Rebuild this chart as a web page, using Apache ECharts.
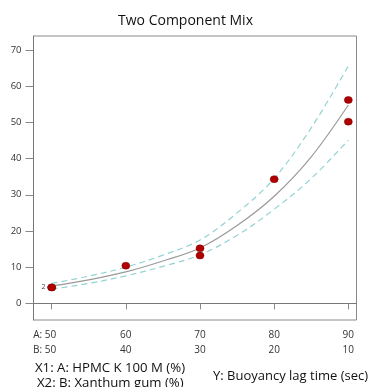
<!DOCTYPE html>
<html>
<head>
<meta charset="utf-8">
<script src="https://cdn.jsdelivr.net/npm/echarts@6/dist/echarts.min.js"></script>
<style>html,body{margin:0;padding:0;background:#fff}#c{width:371px;height:387px}</style>
</head>
<body>
<div id="c"></div>
<script>
// ---- data ----
var xTicks = [50, 60, 70, 80, 90];
var aLabels = ['50', '60', '70', '80', '90'];
var bLabels = ['50', '40', '30', '20', '10'];
var yTicks = [0, 10, 20, 30, 40, 50, 60, 70];
var curveX = [50, 55, 60, 65, 70, 75, 80, 85, 90];
var fitY = [4.8, 6.5, 8.7, 11.7, 15.3, 21.5, 29.6, 40.5, 54.8];
var upperY = [5.5, 7.5, 10.0, 13.3, 17.5, 25.0, 34.5, 48.5, 65.6];
var lowerY = [3.9, 5.5, 7.6, 10.2, 13.4, 18.8, 26.0, 34.5, 45.1];
var ptX = [50, 50, 60, 70, 70, 80, 90, 90];
var ptY = [4.4, 4.4, 10.4, 15.2, 13.2, 34.3, 56.2, 50.2];
var ptLabel = ['2', '', '', '', '', '', '', ''];

function pairs(xs, ys) { return xs.map(function (x, i) { return [x, ys[i]]; }); }

var font = '"Open Sans", "Noto Sans", sans-serif';
var chart = echarts.init(document.getElementById('c'), null, { renderer: 'canvas' });
chart.setOption({
  animation: false,
  backgroundColor: '#fff',
  title: [
    { text: 'Two Component Mix', left: 'center', top: 9, textStyle: { fontFamily: font, fontSize: 14, fontWeight: 'normal', color: '#111' } },
    { text: 'X1: A: HPMC K 100 M (%)', left: 35, top: 362, padding: 0, textStyle: { fontFamily: font, fontSize: 13.2, fontWeight: 'normal', color: '#111' } },
    { text: 'X2: B: Xanthum gum (%)', left: 37, top: 377, padding: 0, textStyle: { fontFamily: font, fontSize: 13.2, fontWeight: 'normal', color: '#111' } },
    { text: 'Y: Buoyancy lag time (sec)', left: 213, top: 370, padding: 0, textStyle: { fontFamily: font, fontSize: 13, fontWeight: 'normal', color: '#111' } }
  ],
  grid: { left: 33.5, right: 14.5, top: 36, bottom: 67, show: true, borderColor: '#8a8a8a', borderWidth: 1 },
  xAxis: {
    type: 'value', min: 47.55, max: 91.1,
    axisLine: { show: true, lineStyle: { color: '#777' } },
    axisTick: { show: true, length: 6, customValues: xTicks, lineStyle: { color: '#888' } },
    splitLine: { show: false },
    axisLabel: {
      customValues: xTicks, margin: 8,
      fontFamily: font, fontSize: 10, color: '#333', lineHeight: 15,
      formatter: function (v) {
        var i = xTicks.indexOf(Math.round(v));
        if (i === 0) return '{f|A: ' + aLabels[i] + '}\n{f|B: ' + bLabels[i] + '}';
        return aLabels[i] + '\n' + bLabels[i];
      },
      rich: { f: { fontFamily: font, fontSize: 10, color: '#333', lineHeight: 15, padding: [0, 14, 0, 0] } }
    }
  },
  yAxis: {
    type: 'value', min: -4.61, max: 73.87,
    axisLine: { show: true, lineStyle: { color: '#777' } },
    axisTick: { show: true, length: 8, customValues: yTicks, lineStyle: { color: '#888' } },
    splitLine: { show: false },
    axisLabel: { customValues: yTicks, margin: 12, fontFamily: font, fontSize: 9.5, color: '#333' }
  },
  series: [
    { type: 'line', data: pairs(curveX, upperY), smooth: 0.35, symbol: 'none', lineStyle: { color: '#93d3d3', width: 1.2, type: [6, 4] }, z: 2 },
    { type: 'line', data: pairs(curveX, lowerY), smooth: 0.35, symbol: 'none', lineStyle: { color: '#93d3d3', width: 1.2, type: [6, 4] }, z: 2 },
    { type: 'line', data: pairs(curveX, fitY), smooth: 0.35, symbol: 'none', lineStyle: { color: '#9a9a9a', width: 1.2 }, z: 3 },
    {
      type: 'scatter', z: 5,
      data: ptX.map(function (x, i) {
        return { value: [x, ptY[i]], label: { show: ptLabel[i] !== '', formatter: ptLabel[i] } };
      }),
      symbol: 'circle', symbolSize: [8, 7],
      itemStyle: { color: '#b00000', borderColor: '#7a0000', borderWidth: 0.5, opacity: 1 },
      label: { position: 'left', distance: 2, fontFamily: font, fontSize: 7, color: '#444' }
    }
  ]
});
</script>
</body>
</html>
